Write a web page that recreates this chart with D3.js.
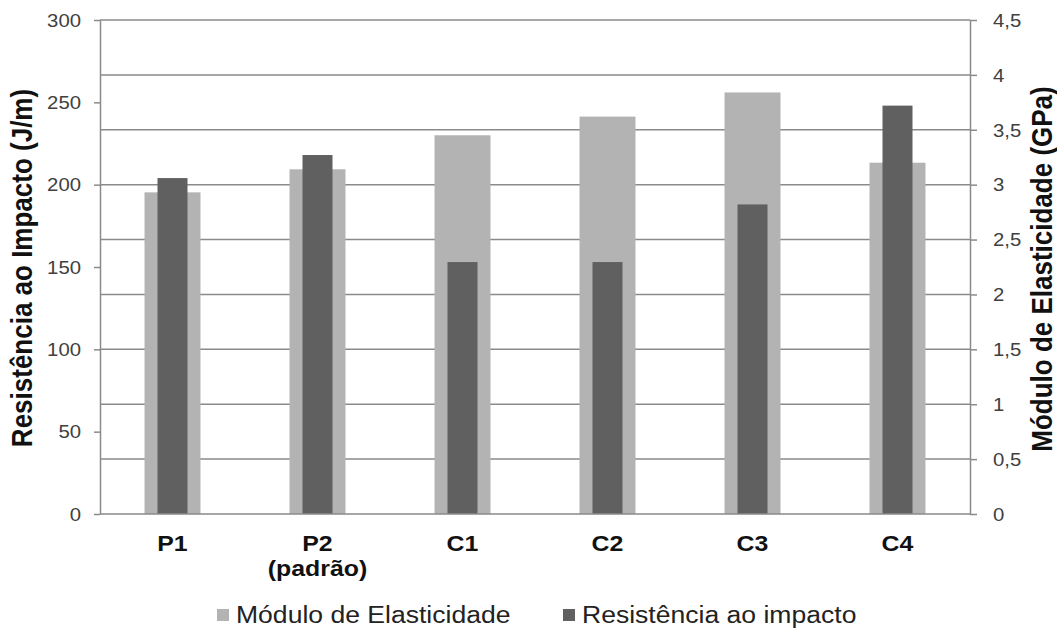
<!DOCTYPE html>
<html>
<head>
<meta charset="utf-8">
<script src="https://cdn.jsdelivr.net/npm/d3@7"></script>
<style>
  body { margin: 0; background: #fff; }
  text { font-family: "Liberation Sans", Arial, sans-serif; }
</style>
</head>
<body>
<div id="container"></div>
<script>
let w = 1057;
let h = 630;

// data
let categories = ["P1", "P2 (padrão)", "C1", "C2", "C3", "C4"];
let modulo = [2.93, 3.14, 3.45, 3.62, 3.84, 3.2];      // GPa, right axis
let impacto = [204, 218, 153, 153, 188, 248];          // J/m, left axis
let leftTicks = [0, 50, 100, 150, 200, 250, 300];
let rightTicks = [0, 0.5, 1, 1.5, 2, 2.5, 3, 3.5, 4, 4.5];
let legendNames = ["Módulo de Elasticidade", "Resistência ao impacto"];

let plotLeft = 100, plotRight = 970, plotTop = 20, plotBottom = 514;
let sx = 1.13; // the picture is a bit wider than tall
let lightColor = "#b3b3b3";
let darkColor = "#606060";
let lineColor = "#8a8a8a";

let viz = d3.select("#container").append("svg")
  .attr("width", w)
  .attr("height", h)
  .style("background-color", "white");

let x = d3.scaleBand().domain(categories).range([plotLeft, plotRight])
  .paddingInner(0.614).paddingOuter(0.307);
let yLeft = d3.scaleLinear().domain([0, 300]).range([plotBottom, plotTop]);
let yRight = d3.scaleLinear().domain([0, 4.5]).range([plotBottom, plotTop]);

// gridlines follow the right axis
viz.selectAll(".grid").data(rightTicks.filter(d => d > 0)).enter()
  .append("line")
  .attr("class", "grid")
  .attr("x1", plotLeft).attr("x2", plotRight)
  .attr("y1", d => yRight(d)).attr("y2", d => yRight(d))
  .attr("stroke", lineColor)
  .attr("stroke-width", 1.5);

// light bars (modulo)
viz.selectAll(".mod").data(modulo).enter()
  .append("rect")
  .attr("class", "mod")
  .attr("x", (d, i) => x(categories[i]))
  .attr("width", x.bandwidth())
  .attr("y", d => yRight(d))
  .attr("height", d => yRight(0) - yRight(d))
  .attr("fill", lightColor);

// dark bars (impacto)
let darkW = 30;
viz.selectAll(".imp").data(impacto).enter()
  .append("rect")
  .attr("class", "imp")
  .attr("x", (d, i) => x(categories[i]) + x.bandwidth() / 2 - darkW / 2)
  .attr("width", darkW)
  .attr("y", d => yLeft(d))
  .attr("height", d => yLeft(0) - yLeft(d))
  .attr("fill", darkColor);

// bottom line
viz.append("line")
  .attr("x1", plotLeft).attr("x2", plotRight)
  .attr("y1", plotBottom).attr("y2", plotBottom)
  .attr("stroke", lineColor).attr("stroke-width", 1.5);

// left axis
let axL = viz.append("g")
  .attr("transform", "translate(" + plotLeft + ",0)")
  .call(d3.axisLeft(yLeft).tickValues(leftTicks).tickSize(6).tickSizeOuter(0));
axL.select(".domain").attr("stroke", lineColor).attr("stroke-width", 1.5);
axL.selectAll(".tick line").attr("stroke", lineColor).attr("stroke-width", 1.5);
axL.selectAll(".tick text")
  .attr("x", 0).attr("dy", "0.35em")
  .attr("transform", "translate(-19,0) scale(" + sx + ",1)")
  .attr("text-anchor", "end")
  .style("font-size", "18px")
  .attr("fill", "#404040");

// right axis
let axR = viz.append("g")
  .attr("transform", "translate(" + plotRight + ",0)")
  .call(d3.axisRight(yRight).tickValues(rightTicks).tickSize(7).tickSizeOuter(0)
    .tickFormat(d => String(d).replace(".", ",")));
axR.select(".domain").attr("stroke", lineColor).attr("stroke-width", 1.5);
axR.selectAll(".tick line").attr("stroke", lineColor).attr("stroke-width", 1.5);
axR.selectAll(".tick text")
  .attr("x", 0).attr("dy", "0.35em")
  .attr("transform", "translate(23,0) scale(" + sx + ",1)")
  .attr("text-anchor", "start")
  .style("font-size", "18px")
  .attr("fill", "#404040");

// category labels
let catText = viz.selectAll(".cat").data(categories).enter()
  .append("text")
  .attr("class", "cat")
  .attr("transform", d => "translate(" + (x(d) + x.bandwidth() / 2) + ",551) scale(" + sx + ",1)")
  .attr("text-anchor", "middle")
  .style("font-size", "22px")
  .style("font-weight", "bold")
  .attr("fill", "#111");
catText.selectAll("tspan").data(d => d.split(" ")).enter()
  .append("tspan")
  .attr("x", 0)
  .attr("dy", (d, i) => i == 0 ? 0 : 25)
  .text(d => d);

// axis titles
viz.append("text")
  .attr("transform", "translate(32,268) rotate(-90) scale(1," + sx + ")")
  .attr("text-anchor", "middle")
  .style("font-size", "26px")
  .style("font-weight", "bold")
  .attr("fill", "#111")
  .text("Resistência ao Impacto (J/m)");

viz.append("text")
  .attr("transform", "translate(1052,269) rotate(-90) scale(1," + sx + ")")
  .attr("text-anchor", "middle")
  .style("font-size", "26px")
  .style("font-weight", "bold")
  .attr("fill", "#111")
  .text("Módulo de Elasticidade (GPa)");

// legend
let legendX = [217, 563];
let legendColors = [lightColor, darkColor];
let lg = viz.selectAll(".legend").data(legendNames).enter()
  .append("g")
  .attr("class", "legend")
  .attr("transform", (d, i) => "translate(" + legendX[i] + ",0)");
lg.append("rect")
  .attr("x", 0).attr("y", 609)
  .attr("width", 12).attr("height", 12)
  .attr("fill", (d, i) => legendColors[i]);
lg.append("text")
  .attr("transform", "translate(19,623) scale(" + sx + ",1)")
  .style("font-size", "23.5px")
  .attr("fill", "#222")
  .text(d => d);
</script>
</body>
</html>
